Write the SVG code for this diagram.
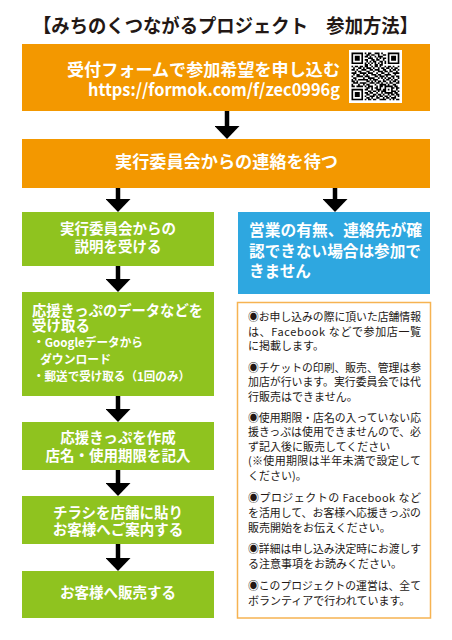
<svg xmlns="http://www.w3.org/2000/svg" width="452" height="640" viewBox="0 0 452 640">
<style>
text{font-family:"Noto Sans CJK JP","Noto Sans",sans-serif}
.t{font-weight:bold;fill:#231815}
.w{font-weight:bold;fill:#fff}
.c{text-anchor:middle}
.n{font-size:11px;fill:#231815}
.org{fill:#F39800}
.grn{fill:#8FC31F}
.blu{fill:#2EA7E0}
.conn line{stroke:#000;stroke-width:4.5;marker-end:url(#ah)}
</style>
<defs>
<marker id="ah" markerUnits="userSpaceOnUse" viewBox="0 0 13 25" markerWidth="13" markerHeight="25" refX="0" refY="12.5" orient="auto">
<path d="M0 0L13 12.5L0 25z" fill="#000"/>
</marker>
</defs>
<rect width="452" height="640" fill="#fff"/>
<text id="title" class="t" x="33" y="33" font-size="19" textLength="385" lengthAdjust="spacingAndGlyphs">【みちのくつながるプロジェクト　参加方法】</text>

<g id="n1">
<rect class="org" x="22" y="44" width="408" height="67"/>
<text class="w" x="67" y="76" font-size="17" textLength="273" lengthAdjust="spacingAndGlyphs">受付フォームで参加希望を申し込む</text>
<text class="w" x="88" y="96" font-size="17" textLength="252" lengthAdjust="spacingAndGlyphs">https://formok.com/f/zec0996g</text>
<rect x="349" y="50" width="53" height="53" fill="#fff"/>
<g transform="translate(351.5 52.5) scale(1.65)">
<path fill="none" stroke="#000" stroke-width="1" d="
M0 0.5h7M8 0.5h1M10 0.5h2M14 0.5h3M18 0.5h1M22 0.5h7
M0 1.5h1M6 1.5h1M9 1.5h2M12 1.5h2M16 1.5h1M19 1.5h2M22 1.5h1M28 1.5h1
M0 2.5h1M2 2.5h3M6 2.5h1M8 2.5h2M11 2.5h1M14 2.5h1M16 2.5h3M22 2.5h1M24 2.5h3M28 2.5h1
M0 3.5h1M2 3.5h3M6 3.5h1M10 3.5h3M15 3.5h1M17 3.5h1M19 3.5h2M22 3.5h1M24 3.5h3M28 3.5h1
M0 4.5h1M2 4.5h3M6 4.5h1M8 4.5h2M12 4.5h2M15 4.5h2M19 4.5h1M22 4.5h1M24 4.5h3M28 4.5h1
M0 5.5h1M6 5.5h1M9 5.5h1M11 5.5h1M13 5.5h2M17 5.5h2M20 5.5h1M22 5.5h1M28 5.5h1
M0 6.5h7M8 6.5h1M10 6.5h1M12 6.5h1M14 6.5h1M16 6.5h1M18 6.5h1M20 6.5h1M22 6.5h7
M8 7.5h2M11 7.5h1M14 7.5h2M17 7.5h2
M0 8.5h1M2 8.5h2M5 8.5h2M8 8.5h2M12 8.5h1M14 8.5h2M17 8.5h1M20 8.5h1M22 8.5h2M25 8.5h1M28 8.5h1
M1 9.5h1M4 9.5h2M7 9.5h1M9 9.5h3M13 9.5h1M16 9.5h1M18 9.5h2M21 9.5h2M24 9.5h1M26 9.5h2
M0 10.5h2M3 10.5h1M6 10.5h3M11 10.5h2M14 10.5h3M19 10.5h2M23 10.5h1M25 10.5h2M28 10.5h1
M2 11.5h1M4 11.5h2M9 11.5h2M13 11.5h1M16 11.5h3M20 11.5h2M23 11.5h2M27 11.5h1
M0 12.5h3M5 12.5h4M10 12.5h3M15 12.5h1M18 12.5h2M22 12.5h1M25 12.5h4
M1 13.5h1M3 13.5h2M7 13.5h1M9 13.5h1M12 13.5h3M16 13.5h2M20 13.5h4M26 13.5h1
M0 14.5h1M3 14.5h4M8 14.5h3M14 14.5h2M17 14.5h3M21 14.5h1M24 14.5h2M27 14.5h2
M1 15.5h2M7 15.5h1M10 15.5h4M16 15.5h1M18 15.5h1M20 15.5h1M22 15.5h2M25 15.5h1M28 15.5h1
M0 16.5h1M2 16.5h1M4 16.5h6M11 16.5h1M13 16.5h3M19 16.5h1M21 16.5h2M24 16.5h1M26 16.5h2
M0 17.5h2M3 17.5h1M9 17.5h2M12 17.5h1M14 17.5h1M16 17.5h2M19 17.5h2M23 17.5h1M25 17.5h2M28 17.5h1
M1 18.5h3M5 18.5h4M11 18.5h3M15 18.5h2M18 18.5h1M21 18.5h1M23 18.5h2M27 18.5h2
M0 19.5h1M4 19.5h1M7 19.5h1M9 19.5h2M14 19.5h1M17 19.5h4M22 19.5h1M25 19.5h2
M0 20.5h2M3 20.5h4M8 20.5h1M10 20.5h3M15 20.5h1M17 20.5h2M20 20.5h5M26 20.5h2
M9 21.5h2M12 21.5h1M14 21.5h2M17 21.5h1M20 21.5h1M24 21.5h2M27 21.5h2
M0 22.5h7M8 22.5h2M12 22.5h1M15 22.5h3M19 22.5h2M22 22.5h1M24 22.5h1M27 22.5h1
M0 23.5h1M6 23.5h1M10 23.5h2M13 23.5h2M16 23.5h1M18 23.5h3M24 23.5h3M28 23.5h1
M0 24.5h1M2 24.5h3M6 24.5h1M8 24.5h2M11 24.5h2M15 24.5h1M18 24.5h1M20 24.5h5M26 24.5h2
M0 25.5h1M2 25.5h3M6 25.5h1M9 25.5h2M13 25.5h2M16 25.5h2M19 25.5h1M22 25.5h1M24 25.5h2M27 25.5h2
M0 26.5h1M2 26.5h3M6 26.5h1M8 26.5h1M11 26.5h3M15 26.5h1M17 26.5h2M20 26.5h2M23 26.5h1M26 26.5h1M28 26.5h1
M0 27.5h1M6 27.5h1M9 27.5h2M12 27.5h1M15 27.5h2M19 27.5h1M21 27.5h2M24 27.5h3
M0 28.5h7M8 28.5h1M10 28.5h2M13 28.5h2M17 28.5h4M23 28.5h1M25 28.5h1M27 28.5h2"/>
</g>
</g>

<g id="n2">
<rect class="org" x="22" y="139" width="408" height="49"/>
<text class="w c" x="226.5" y="168" font-size="17" textLength="223" lengthAdjust="spacingAndGlyphs">実行委員会からの連絡を待つ</text>
</g>

<g id="n3">
<rect class="grn" x="22" y="212" width="192" height="54"/>
<text class="w c" x="118" y="234" font-size="14.5">実行委員会からの</text>
<text class="w c" x="118" y="252" font-size="14.5">説明を受ける</text>
</g>

<g id="n4">
<rect class="blu" x="238" y="212" width="192" height="82"/>
<text class="w" x="249" y="236" font-size="16" textLength="173" lengthAdjust="spacingAndGlyphs">営業の有無、連絡先が確</text>
<text class="w" x="249" y="257" font-size="16" textLength="172" lengthAdjust="spacingAndGlyphs">認できない場合は参加で</text>
<text class="w" x="249" y="277" font-size="16" textLength="62" lengthAdjust="spacingAndGlyphs">きません</text>
</g>

<g id="n5">
<rect class="grn" x="22" y="292" width="192" height="104"/>
<text class="w" x="32" y="316" font-size="14.5" textLength="171" lengthAdjust="spacingAndGlyphs">応援きっぷのデータなどを</text>
<text class="w" x="32" y="331" font-size="14.5">受け取る</text>
<text class="w" x="33" y="347" font-size="12" textLength="110" lengthAdjust="spacingAndGlyphs">・Googleデータから</text>
<text class="w" x="40" y="364" font-size="12" textLength="71" lengthAdjust="spacingAndGlyphs">ダウンロード</text>
<text class="w" x="33" y="381" font-size="12" textLength="157" lengthAdjust="spacingAndGlyphs">・郵送で受け取る（1回のみ）</text>
</g>

<g id="n6">
<rect class="grn" x="22" y="422" width="192" height="48"/>
<text class="w c" x="118" y="443" font-size="14.5">応援きっぷを作成</text>
<text class="w c" x="118" y="461" font-size="14.5">店名・使用期限を記入</text>
</g>

<g id="n7">
<rect class="grn" x="22" y="496" width="192" height="48"/>
<text class="w c" x="118" y="518" font-size="14.5">チラシを店舗に貼り</text>
<text class="w c" x="118" y="535" font-size="14.5">お客様へご案内する</text>
</g>

<g id="n8">
<rect class="grn" x="22" y="571" width="192" height="47"/>
<text class="w c" x="118" y="598" font-size="14.5">お客様へ販売する</text>
</g>

<g id="n9">
<rect x="237.5" y="302.5" width="193" height="315.5" fill="#fff" stroke="#F6B352" stroke-width="1.5"/>
<text class="n" x="248" y="321" textLength="173" lengthAdjust="spacingAndGlyphs">◉お申し込みの際に頂いた店舗情報</text>
<text class="n" x="248" y="336" textLength="173" lengthAdjust="spacing">は、Facebook などで参加店一覧</text>
<text class="n" x="248" y="350">に掲載します。</text>
<text class="n" x="248" y="372" textLength="173" lengthAdjust="spacingAndGlyphs">◉チケットの印刷、販売、管理は参</text>
<text class="n" x="248" y="386" textLength="173" lengthAdjust="spacingAndGlyphs">加店が行います。実行委員会では代</text>
<text class="n" x="248" y="401">行販売はできません。</text>
<text class="n" x="248" y="422" textLength="173" lengthAdjust="spacingAndGlyphs">◉使用期限・店名の入っていない応</text>
<text class="n" x="248" y="436" textLength="173" lengthAdjust="spacingAndGlyphs">援きっぷは使用できませんので、必</text>
<text class="n" x="248" y="451">ず記入後に販売してください</text>
<text class="n" x="248" y="465" textLength="173" lengthAdjust="spacing">(※使用期限は半年未満で設定して</text>
<text class="n" x="248" y="480">ください)。</text>
<text class="n" x="248" y="502" textLength="173" lengthAdjust="spacing">◉プロジェクトの Facebook など</text>
<text class="n" x="248" y="517" textLength="173" lengthAdjust="spacingAndGlyphs">を活用して、お客様へ応援きっぷの</text>
<text class="n" x="248" y="532">販売開始をお伝えください。</text>
<text class="n" x="248" y="553" textLength="173" lengthAdjust="spacingAndGlyphs">◉詳細は申し込み決定時にお渡しす</text>
<text class="n" x="248" y="568">る注意事項をお読みください。</text>
<text class="n" x="248" y="590" textLength="173" lengthAdjust="spacingAndGlyphs">◉このプロジェクトの運営は、全て</text>
<text class="n" x="248" y="605">ボランティアで行われています。</text>
</g>

<g id="connectors" class="conn">
<line x1="227" y1="111" x2="227" y2="126"/>
<line x1="118" y1="188" x2="118" y2="199"/>
<line x1="335" y1="188" x2="335" y2="199"/>
<line x1="118" y1="266" x2="118" y2="279"/>
<line x1="118" y1="396" x2="118" y2="409"/>
<line x1="118" y1="470" x2="118" y2="483"/>
<line x1="118" y1="544" x2="118" y2="558"/>
</g>
</svg>
